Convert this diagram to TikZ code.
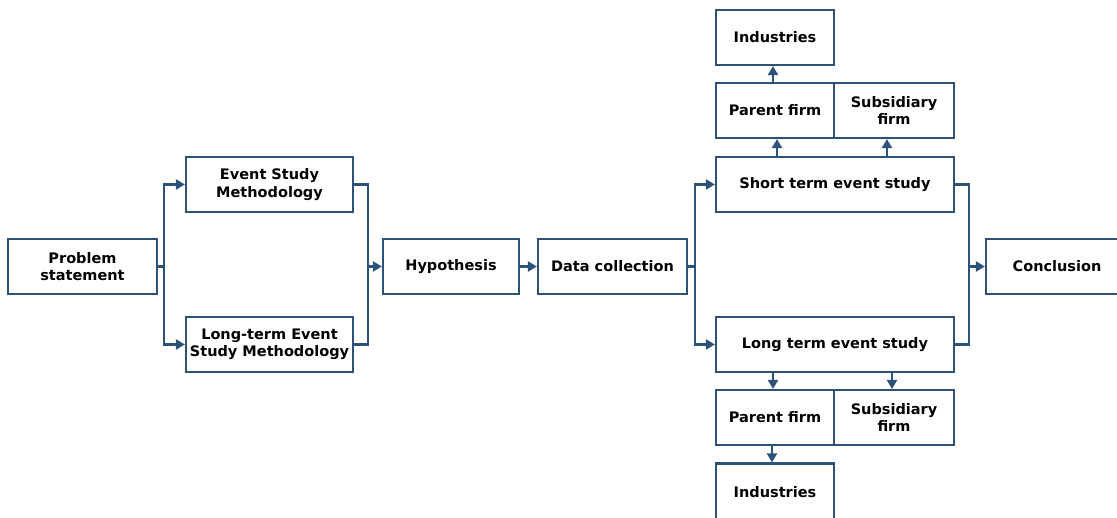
\documentclass[tikz,border=0pt]{standalone}
\usepackage{fontspec}
\setmainfont{DejaVu Sans}
\usetikzlibrary{arrows.meta}
\definecolor{lc}{RGB}{44,82,122}
\begin{document}
\begin{tikzpicture}[x=1pt,y=-1pt,
  box/.style={draw=lc,line width=2.2pt,align=center,inner sep=0pt,font=\bfseries\fontsize{14.5}{17.5}\selectfont,text=black},
  conn/.style={draw=lc,line width=2.2pt},
  arr/.style={conn,-{Triangle[length=9pt,width=10pt]}}]
\useasboundingbox (0,0) rectangle (1117,517);
\node[box,minimum width=149pt,minimum height=55pt] (prob) at (82.5,266.5) {Problem\\statement};
\node[box,minimum width=167pt,minimum height=55pt] (esm) at (269.5,184.5) {Event Study\\Methodology};
\node[box,minimum width=167pt,minimum height=55pt] (lesm) at (269.5,344.5) {Long-term Event\\Study Methodology};
\node[box,minimum width=136pt,minimum height=55pt] (hyp) at (451,266.5) {Hypothesis};
\node[box,minimum width=149pt,minimum height=55pt] (data) at (612.5,266.5) {Data collection};
\node[box,minimum width=238pt,minimum height=55pt] (short) at (835,184.5) {Short term event study};
\node[box,minimum width=238pt,minimum height=55pt] (long) at (835,344.5) {Long term event study};
\node[box,minimum width=118pt,minimum height=55pt] (tpar) at (775,110.5) {Parent firm};
\node[box,minimum width=120pt,minimum height=55pt] (tsub) at (894,110.5) {Subsidiary\\firm};
\node[box,minimum width=118pt,minimum height=55pt] (tind) at (775,37.5) {Industries};
\node[box,minimum width=118pt,minimum height=55pt] (bpar) at (775,417.5) {Parent firm};
\node[box,minimum width=120pt,minimum height=55pt] (bsub) at (894,417.5) {Subsidiary\\firm};
\node[box,minimum width=118pt,minimum height=57pt] (bind) at (775,492) {Industries};
\node[box,minimum width=142pt,minimum height=55pt] (conc) at (1057,266.5) {Conclusion};
% left split
\coordinate (s1) at (164,266.5);
\draw[conn] (prob.east) -- (s1);
\draw[arr] (s1) |- (esm.west);
\draw[arr] (s1) |- (lesm.west);
% merge to hypothesis
\coordinate (m1) at (368,266.5);
\draw[conn] (esm.east) -| (m1);
\draw[conn] (lesm.east) -| (m1);
\draw[arr] (m1) -- (hyp.west);
\draw[arr] (hyp.east) -- (data.west);
% right split
\coordinate (s2) at (695,266.5);
\draw[conn] (data.east) -- (s2);
\draw[arr] (s2) |- (short.west);
\draw[arr] (s2) |- (long.west);
% merge to conclusion
\coordinate (m2) at (969,266.5);
\draw[conn] (short.east) -| (m2);
\draw[conn] (long.east) -| (m2);
\draw[arr] (m2) -- (conc.west);
% up/down
\draw[arr] (short.north -| 777,0) -- (tpar.south -| 777,0);
\draw[arr] (short.north -| 887,0) -- (tsub.south -| 887,0);
\draw[arr] (tpar.north -| 773,0) -- (tind.south -| 773,0);
\draw[arr] (long.south -| 773,0) -- (bpar.north -| 773,0);
\draw[arr] (long.south -| 892,0) -- (bsub.north -| 892,0);
\draw[arr] (bpar.south -| 772,0) -- (bind.north -| 772,0);
\end{tikzpicture}
\end{document}
